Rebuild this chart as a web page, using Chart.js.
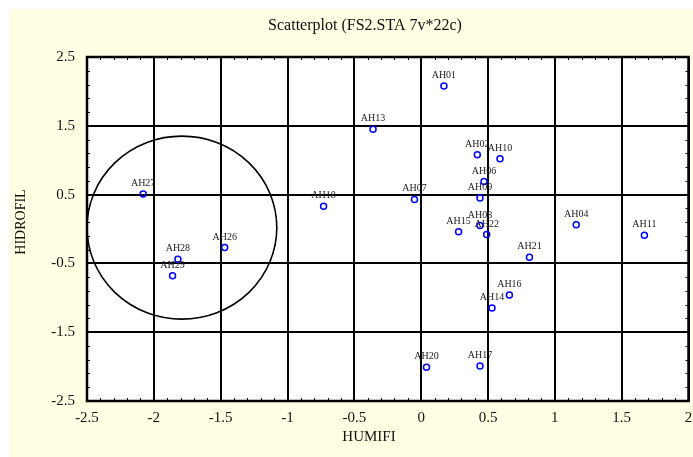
<!DOCTYPE html>
<html><head><meta charset="utf-8">
<script src="https://cdn.jsdelivr.net/npm/chart.js@4/dist/chart.umd.min.js"></script>
<style>
html,body{margin:0;padding:0;background:#fff;width:693px;height:457px;overflow:hidden}
#wrap{position:absolute;left:10px;top:9px;width:683px;height:448px;background:#FFFFE4}
canvas{display:block}
</style></head><body>
<div id="wrap"><canvas id="c" width="683" height="448"></canvas></div>
<script>
const caseNames = ['AH01','AH02','AH04','AH06','AH07','AH08','AH09','AH10','AH11','AH13','AH14','AH15','AH16','AH17','AH18','AH20','AH21','AH22','AH26','AH27','AH28','AH29'];
const humifi   = [0.17, 0.42, 1.16, 0.47, -0.05, 0.44, 0.44, 0.59, 1.67, -0.36, 0.53, 0.28, 0.66, 0.44, -0.73, 0.04, 0.81, 0.49, -1.47, -2.08, -1.82, -1.86];
const hidrofil = [2.08, 1.08, 0.06, 0.69, 0.43, 0.05, 0.45, 1.02, -0.09, 1.45, -1.15, -0.04, -0.96, -1.99, 0.33, -2.01, -0.41, -0.08, -0.27, 0.51, -0.44, -0.68];
const xTicks = [-2.5,-2,-1.5,-1,-0.5,0,0.5,1,1.5,2];
const yTicks = [-2.5,-1.5,-0.5,0.5,1.5,2.5];
const xMinorStep = 0.1;
const yMinorStep = 0.2;
const circleCenter = [-1.79, 0.02];
const circleRadii = [0.71, 1.33];
const titleText = 'Scatterplot (FS2.STA 7v*22c)';
const xTitle = 'HUMIFI';
const yTitle = 'HIDROFIL';

const FONT = "'Liberation Serif', 'Times New Roman', serif";

const points = humifi.map((x, i) => ({x: x, y: hidrofil[i], name: caseNames[i]}));

const plotBg = {
  id: 'plotBg',
  beforeDraw(chart) {
    const {ctx, chartArea: a} = chart;
    ctx.save();
    ctx.fillStyle = '#ffffff';
    ctx.fillRect(a.left, a.top, a.right - a.left, a.bottom - a.top);
    ctx.restore();
  }
};

const extras = {
  id: 'extras',
  beforeDatasetsDraw(chart) {
    const {ctx, chartArea: a, scales: {x, y}} = chart;
    ctx.save();
    ctx.strokeStyle = '#000';
    ctx.lineWidth = 1;
    const tl = 3;
    ctx.beginPath();
    for (let v = x.min; v <= x.max + 1e-9; v += xMinorStep) {
      const px = Math.round(x.getPixelForValue(v)) + 0.5;
      ctx.moveTo(px, a.top); ctx.lineTo(px, a.top + tl);
      ctx.moveTo(px, a.bottom); ctx.lineTo(px, a.bottom - tl);
    }
    for (let v = y.min; v <= y.max + 1e-9; v += yMinorStep) {
      const py = Math.round(y.getPixelForValue(v)) + 0.5;
      ctx.moveTo(a.left, py); ctx.lineTo(a.left + tl, py);
      ctx.moveTo(a.right, py); ctx.lineTo(a.right - tl, py);
    }
    ctx.stroke();
    const cx = x.getPixelForValue(circleCenter[0]);
    const cy = y.getPixelForValue(circleCenter[1]);
    const rx = Math.abs(x.getPixelForValue(circleCenter[0] + circleRadii[0]) - cx);
    const ry = Math.abs(y.getPixelForValue(circleCenter[1] + circleRadii[1]) - cy);
    ctx.beginPath();
    ctx.rect(a.left, a.top, a.right - a.left, a.bottom - a.top);
    ctx.clip();
    ctx.beginPath();
    ctx.ellipse(cx, cy, rx, ry, 0, 0, Math.PI * 2);
    ctx.lineWidth = 1.6;
    ctx.strokeStyle = '#000';
    ctx.stroke();
    ctx.restore();
  },
  afterDatasetsDraw(chart) {
    const {ctx, chartArea: a, scales: {x, y}} = chart;
    ctx.save();
    ctx.font = "10px " + FONT;
    ctx.fillStyle = '#222';
    ctx.textAlign = 'center';
    ctx.textBaseline = 'alphabetic';
    points.forEach(p => {
      ctx.fillText(p.name, x.getPixelForValue(p.x), y.getPixelForValue(p.y) - 8);
    });
    ctx.strokeStyle = '#000';
    ctx.lineWidth = 2.5;
    ctx.strokeRect(a.left, a.top, a.right - a.left, a.bottom - a.top);
    ctx.restore();
  },
  afterDraw(chart) {
    const {ctx, chartArea: a} = chart;
    ctx.save();
    ctx.fillStyle = '#111';
    ctx.textAlign = 'center';
    ctx.textBaseline = 'middle';
    // main title
    ctx.font = "16px " + FONT;
    ctx.fillText(titleText, a.left + 278, 17);
    // x axis title
    ctx.font = "15px " + FONT;
    ctx.fillText(xTitle, a.left + 282, a.bottom + 36);
    // y axis title
    ctx.translate(11, a.top + 165);
    ctx.rotate(-Math.PI / 2);
    ctx.font = "14px " + FONT;
    ctx.fillText(yTitle, 0, 0);
    ctx.restore();
  }
};

new Chart(document.getElementById('c'), {
  type: 'scatter',
  data: {
    datasets: [{
      data: points,
      pointStyle: 'circle',
      pointRadius: 3,
      pointHoverRadius: 3,
      pointBorderWidth: 1.5,
      borderColor: '#0000ff',
      backgroundColor: 'rgba(255,255,255,0)'
    }]
  },
  options: {
    responsive: false,
    animation: false,
    devicePixelRatio: 1,
    layout: {padding: {left: 0, right: 4, top: 48, bottom: 0}},
    plugins: {
      legend: {display: false},
      tooltip: {enabled: false},
      title: {display: false}
    },
    scales: {
      x: {
        type: 'linear',
        min: -2.5, max: 2,
        afterBuildTicks: s => { s.ticks = xTicks.map(v => ({value: v})); },
        afterFit: s => { s.height = 56; s.paddingLeft = 0; s.paddingRight = 0; },
        grid: {color: '#000', lineWidth: 2, drawTicks: false},
        border: {display: false},
        ticks: {color: '#111', padding: 8, font: {family: FONT, size: 15}, callback: v => String(v), maxRotation: 0, autoSkip: false},
        title: {display: false}
      },
      y: {
        type: 'linear',
        min: -2.5, max: 2.5,
        afterBuildTicks: s => { s.ticks = yTicks.map(v => ({value: v})); },
        afterFit: s => { s.width = 77; s.paddingTop = 0; s.paddingBottom = 0; },
        grid: {color: '#000', lineWidth: 2, drawTicks: false},
        border: {display: false},
        ticks: {color: '#111', padding: 12, font: {family: FONT, size: 15}, callback: v => String(v), autoSkip: false},
        title: {display: false}
      }
    }
  },
  plugins: [plotBg, extras]
});
</script>
</body></html>
